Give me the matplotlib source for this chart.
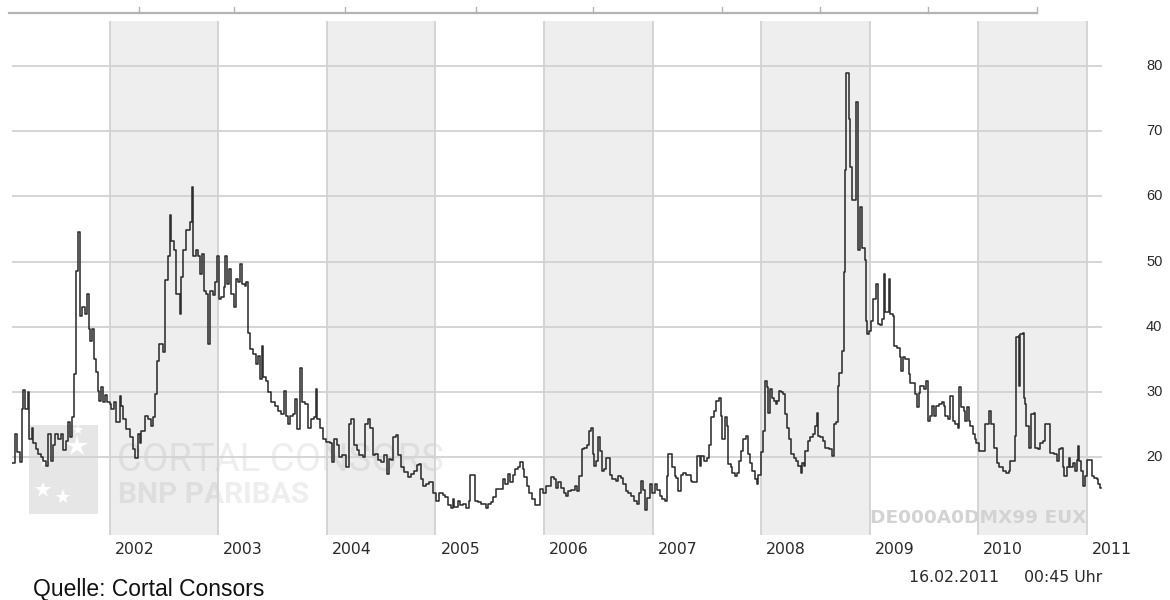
import matplotlib
matplotlib.use("Agg")
import matplotlib.pyplot as plt
from matplotlib.transforms import blended_transform_factory
from matplotlib.patches import Rectangle
from matplotlib.lines import Line2D

# ---------------- data (decimal year, VDAX value; step chart) ----------------
t_year = [
    2001.100, 2001.126, 2001.144, 2001.169, 2001.187, 2001.200, 2001.218, 2001.243, 2001.258, 2001.279,
    2001.295, 2001.316, 2001.341, 2001.365, 2001.387, 2001.408, 2001.433, 2001.454, 2001.479, 2001.494,
    2001.519, 2001.546, 2001.571, 2001.595, 2001.611, 2001.635, 2001.653, 2001.669, 2001.687, 2001.709,
    2001.721, 2001.745, 2001.770, 2001.788, 2001.804, 2001.819, 2001.837, 2001.856, 2001.877, 2001.893,
    2001.905, 2001.923, 2001.939, 2001.957, 2001.972, 2002.000, 2002.015, 2002.040, 2002.061, 2002.092,
    2002.107, 2002.126, 2002.153, 2002.184, 2002.215, 2002.236, 2002.261, 2002.276, 2002.291, 2002.322,
    2002.353, 2002.383, 2002.399, 2002.414, 2002.435, 2002.454, 2002.491, 2002.506, 2002.537, 2002.558,
    2002.567, 2002.589, 2002.613, 2002.644, 2002.659, 2002.675, 2002.705, 2002.736, 2002.754, 2002.767,
    2002.791, 2002.813, 2002.828, 2002.853, 2002.865, 2002.889, 2002.908, 2002.920, 2002.951, 2002.966,
    2002.987, 2003.003, 2003.027, 2003.049, 2003.064, 2003.079, 2003.098, 2003.119, 2003.144, 2003.159,
    2003.181, 2003.202, 2003.220, 2003.242, 2003.257, 2003.273, 2003.294, 2003.319, 2003.343, 2003.365,
    2003.380, 2003.398, 2003.411, 2003.441, 2003.457, 2003.487, 2003.518, 2003.549, 2003.579, 2003.604,
    2003.619, 2003.641, 2003.662, 2003.687, 2003.708, 2003.723, 2003.748, 2003.769, 2003.794, 2003.825,
    2003.849, 2003.877, 2003.895, 2003.910, 2003.932, 2003.963, 2003.993, 2004.024, 2004.049, 2004.070,
    2004.091, 2004.116, 2004.140, 2004.177, 2004.202, 2004.223, 2004.248, 2004.275, 2004.300, 2004.331,
    2004.352, 2004.377, 2004.401, 2004.423, 2004.447, 2004.469, 2004.499, 2004.530, 2004.555, 2004.570,
    2004.591, 2004.613, 2004.637, 2004.659, 2004.683, 2004.714, 2004.745, 2004.775, 2004.806, 2004.827,
    2004.846, 2004.867, 2004.883, 2004.913, 2004.944, 2004.975, 2005.005, 2005.030, 2005.067, 2005.091,
    2005.113, 2005.143, 2005.159, 2005.174, 2005.205, 2005.226, 2005.251, 2005.281, 2005.306, 2005.321,
    2005.361, 2005.389, 2005.419, 2005.465, 2005.481, 2005.511, 2005.527, 2005.557, 2005.619, 2005.643,
    2005.665, 2005.689, 2005.711, 2005.732, 2005.757, 2005.781, 2005.803, 2005.818, 2005.839, 2005.864,
    2005.894, 2005.919, 2005.962, 2005.987, 2006.017, 2006.063, 2006.094, 2006.109, 2006.131, 2006.155,
    2006.180, 2006.201, 2006.223, 2006.253, 2006.284, 2006.303, 2006.324, 2006.349, 2006.370, 2006.395,
    2006.416, 2006.431, 2006.450, 2006.462, 2006.477, 2006.499, 2006.517, 2006.532, 2006.554, 2006.569,
    2006.609, 2006.631, 2006.661, 2006.683, 2006.707, 2006.729, 2006.753, 2006.778, 2006.805, 2006.830,
    2006.855, 2006.876, 2006.891, 2006.913, 2006.928, 2006.953, 2006.977, 2006.999, 2007.020, 2007.045,
    2007.066, 2007.091, 2007.112, 2007.131, 2007.143, 2007.183, 2007.204, 2007.219, 2007.238, 2007.259,
    2007.284, 2007.305, 2007.351, 2007.367, 2007.413, 2007.437, 2007.449, 2007.474, 2007.498, 2007.520,
    2007.535, 2007.566, 2007.581, 2007.612, 2007.627, 2007.643, 2007.664, 2007.683, 2007.698, 2007.719,
    2007.735, 2007.756, 2007.774, 2007.796, 2007.817, 2007.836, 2007.857, 2007.879, 2007.897, 2007.919,
    2007.940, 2007.958, 2007.974, 2007.995, 2008.017, 2008.035, 2008.057, 2008.066, 2008.078, 2008.097,
    2008.118, 2008.133, 2008.149, 2008.164, 2008.179, 2008.201, 2008.219, 2008.241, 2008.256, 2008.280,
    2008.302, 2008.323, 2008.342, 2008.363, 2008.379, 2008.394, 2008.409, 2008.431, 2008.455, 2008.477,
    2008.495, 2008.517, 2008.526, 2008.547, 2008.569, 2008.587, 2008.630, 2008.649, 2008.670, 2008.691,
    2008.710, 2008.722, 2008.741, 2008.762, 2008.771, 2008.783, 2008.808, 2008.823, 2008.839, 2008.875,
    2008.891, 2008.894, 2008.915, 2008.931, 2008.955, 2008.964, 2008.980, 2008.998, 2009.016, 2009.032,
    2009.062, 2009.078, 2009.099, 2009.115, 2009.130, 2009.145, 2009.176, 2009.191, 2009.213, 2009.222,
    2009.253, 2009.277, 2009.293, 2009.305, 2009.329, 2009.360, 2009.375, 2009.421, 2009.437, 2009.452,
    2009.467, 2009.504, 2009.523, 2009.538, 2009.559, 2009.575, 2009.590, 2009.611, 2009.636, 2009.667,
    2009.682, 2009.697, 2009.722, 2009.743, 2009.768, 2009.789, 2009.814, 2009.826, 2009.844, 2009.866,
    2009.875, 2009.897, 2009.918, 2009.927, 2009.949, 2009.973, 2009.983, 2010.004, 2010.059, 2010.096,
    2010.121, 2010.142, 2010.173, 2010.194, 2010.225, 2010.255, 2010.280, 2010.295, 2010.335, 2010.347,
    2010.372, 2010.378, 2010.387, 2010.412, 2010.421, 2010.433, 2010.442, 2010.464, 2010.488, 2010.510,
    2010.525, 2010.550, 2010.571, 2010.596, 2010.617, 2010.663, 2010.694, 2010.725, 2010.740, 2010.764,
    2010.777, 2010.795, 2010.817, 2010.832, 2010.847, 2010.872, 2010.893, 2010.909, 2010.918, 2010.930,
    2010.945, 2010.961, 2010.985, 2011.000, 2011.047, 2011.071, 2011.093, 2011.108, 2011.123, 2011.127,
]
vdax = [
    19.1, 23.5, 20.8, 19.3, 27.3, 30.3, 27.3, 30.0, 22.7, 24.5,
    22.2, 21.2, 20.5, 20.0, 19.4, 18.6, 23.5, 19.4, 21.8, 23.5,
    22.7, 23.5, 21.0, 22.5, 25.3, 23.0, 26.1, 32.7, 48.6, 54.5,
    41.7, 43.0, 42.0, 45.0, 39.6, 37.8, 39.6, 35.0, 33.0, 30.2,
    28.6, 30.7, 28.4, 29.5, 28.5, 28.1, 27.3, 28.5, 25.3, 29.4,
    27.8, 25.8, 24.3, 23.0, 21.2, 19.9, 23.5, 22.2, 24.0, 26.3,
    25.8, 24.8, 26.1, 29.6, 34.8, 37.3, 36.1, 47.1, 50.9, 57.1,
    53.2, 51.7, 45.0, 42.0, 47.6, 51.7, 54.8, 56.1, 61.4, 50.9,
    51.7, 50.9, 48.1, 51.2, 45.5, 45.0, 37.3, 45.5, 44.8, 46.8,
    50.9, 44.3, 44.5, 46.1, 50.9, 46.6, 48.9, 45.0, 43.0, 47.3,
    46.8, 49.6, 46.6, 46.3, 46.8, 39.1, 36.6, 35.8, 34.3, 35.5,
    31.9, 37.1, 32.2, 31.7, 29.9, 28.4, 27.8, 27.1, 26.6, 30.2,
    26.3, 25.0, 26.3, 26.6, 28.9, 24.3, 33.7, 28.4, 28.1, 24.5,
    25.8, 26.1, 30.4, 25.8, 24.5, 22.7, 22.3, 22.1, 19.2, 22.8,
    21.8, 20.0, 20.3, 18.5, 25.1, 25.9, 21.8, 21.0, 20.3, 20.0,
    25.1, 25.9, 24.4, 20.3, 20.5, 19.5, 19.2, 20.3, 17.4, 19.7,
    19.5, 23.1, 23.3, 20.3, 18.5, 17.7, 16.9, 17.4, 17.9, 18.7,
    19.0, 16.7, 15.6, 15.9, 16.2, 14.4, 13.3, 14.4, 14.1, 13.8,
    12.6, 12.1, 13.6, 12.3, 13.3, 12.6, 12.8, 12.1, 13.3, 17.2,
    13.3, 13.1, 12.8, 12.1, 12.8, 13.1, 13.8, 15.1, 16.7, 15.9,
    17.4, 16.2, 17.2, 18.2, 18.5, 19.2, 18.2, 16.9, 15.6, 14.4,
    13.6, 12.6, 15.1, 14.4, 15.5, 16.9, 16.6, 15.3, 16.1, 15.3,
    14.5, 14.0, 14.8, 15.0, 15.5, 14.8, 17.1, 21.2, 21.4, 21.9,
    24.0, 24.4, 20.4, 18.6, 19.4, 23.0, 20.9, 17.9, 18.1, 19.9,
    17.3, 16.6, 16.3, 17.1, 16.8, 15.8, 14.8, 14.5, 14.0, 13.2,
    12.8, 14.5, 16.3, 15.0, 11.9, 13.7, 15.8, 14.5, 15.8, 15.0,
    14.0, 13.5, 13.2, 17.1, 20.4, 18.4, 17.1, 16.8, 14.8, 17.3,
    17.6, 17.3, 16.3, 16.1, 20.2, 18.6, 20.2, 19.4, 19.9, 21.9,
    26.1, 27.1, 28.6, 29.1, 26.3, 22.7, 26.1, 24.8, 18.9, 18.4,
    17.6, 17.1, 17.6, 19.4, 20.9, 22.7, 23.2, 20.4, 19.1, 17.8,
    16.6, 15.8, 17.3, 20.7, 24.0, 31.7, 30.7, 26.8, 30.4, 29.1,
    28.6, 28.1, 28.6, 30.2, 29.9, 29.6, 26.6, 24.5, 22.7, 20.4,
    19.9, 19.4, 18.6, 17.6, 19.1, 18.6, 20.9, 22.5, 23.0, 23.5,
    24.8, 26.8, 23.2, 23.0, 22.5, 21.4, 21.2, 20.1, 25.0, 25.3,
    30.9, 32.9, 36.3, 48.4, 64.0, 78.9, 71.9, 64.5, 59.4, 74.5,
    64.5, 51.7, 58.4, 52.0, 50.2, 40.9, 38.9, 39.4, 40.9, 44.3,
    46.6, 40.4, 40.2, 41.2, 48.1, 42.2, 47.3, 41.9, 41.7, 37.1,
    36.8, 35.3, 33.2, 35.3, 35.0, 32.7, 31.4, 29.6, 27.6, 29.8,
    30.9, 30.4, 31.7, 25.5, 26.3, 27.8, 26.3, 27.8, 28.1, 28.4,
    27.8, 26.3, 25.8, 29.4, 25.5, 25.0, 24.5, 30.7, 27.6, 27.1,
    25.5, 27.6, 25.5, 24.8, 23.5, 22.7, 22.2, 20.9, 25.0, 27.1,
    25.0, 21.4, 19.1, 18.4, 17.8, 17.6, 17.8, 19.4, 23.2, 38.4,
    38.6, 30.9, 38.9, 39.1, 29.1, 28.1, 24.8, 21.4, 26.6, 26.8,
    21.4, 21.2, 22.2, 22.5, 25.0, 20.6, 20.4, 19.4, 21.2, 21.4,
    18.4, 17.1, 18.4, 19.9, 18.4, 19.1, 17.8, 19.6, 21.7, 19.4,
    17.8, 15.5, 17.1, 19.6, 17.1, 16.8, 16.6, 15.8, 15.3, 15.3,
]
years = [2002, 2003, 2004, 2005, 2006, 2007, 2008, 2009, 2010, 2011]
shaded_years = [2002, 2004, 2006, 2008, 2010]
y_ticks = [20, 30, 40, 50, 60, 70, 80]

# ---------------- figure ----------------
W, H = 1170, 600
fig = plt.figure(figsize=(W / 100, H / 100), dpi=100)
fig.patch.set_facecolor("white")

PX_PER_YEAR = 108.55
X_2002 = 109.8
L, R, T, B = 12, 1102, 21, 535
ax = fig.add_axes([L / W, 1 - B / H, (R - L) / W, (B - T) / H])
ax.set_xlim(2002 + (L - X_2002) / PX_PER_YEAR, 2002 + (R - X_2002) / PX_PER_YEAR)
PX_PER_UNIT = (457 - 66) / 60.0
ax.set_ylim(20 - (B - 457) / PX_PER_UNIT, 20 + (457 - T) / PX_PER_UNIT)
for s in ax.spines.values():
    s.set_visible(False)
ax.set_xticks([])
ax.set_yticks([])

grid_c = "#d2d2d2"
for y in shaded_years:
    ax.axvspan(y, y + 1, color="#eeeeee", lw=0, zorder=0)
for v in y_ticks:
    ax.axhline(v, color=grid_c, lw=1.3, zorder=1)
for y in years:
    ax.axvline(y, color=grid_c, lw=1.3, zorder=1)

# watermark (logo + texts)
ax.add_patch(Rectangle((29 / W, 1 - 514 / H), 69 / W, 89 / H, transform=fig.transFigure,
                       facecolor="#e6e6e6", edgecolor="none", zorder=0.6, clip_on=False))
for (sx, sy, ss) in [(77, 446, 16), (45, 462, 9), (43, 490, 12), (63, 497, 11), (78, 430, 8)]:
    ax.add_line(Line2D([sx / W], [1 - sy / H], transform=fig.transFigure, marker="*",
                       markersize=ss, color="white", markeredgewidth=0, zorder=0.7, clip_on=False))
ax.text(117 / W, 1 - 471 / H, "CORTAL CONSORS", transform=fig.transFigure, family="Roboto",
        fontsize=27.5, color="black", alpha=0.065, ha="left", va="baseline", zorder=0.7)
ax.text(118 / W, 1 - 503 / H, "BNP PARIBAS", transform=fig.transFigure, family="Roboto",
        fontsize=21.5, weight="bold", color="black", alpha=0.065, ha="left", va="baseline", zorder=0.7)
ax.text(870 / W, 1 - 518 / H, "DE000A0DMX99 EUX", transform=fig.transFigure, family="DejaVu Sans",
        fontsize=13.3, weight="bold", color="#d3d3d3", ha="left", va="center", zorder=0.7)

# data
ax.step(t_year, vdax, where="post", color="#2e2e2e", lw=1.15, zorder=3)

# x labels (years)
tb = blended_transform_factory(ax.transData, ax.transAxes)
for y in years:
    ax.text(y + 5 / PX_PER_YEAR, -(549 - B) / (B - T), str(y), transform=tb, ha="left",
            va="center", fontsize=11.3, family="DejaVu Sans", color="#2a2a2a")

# y labels (right side)
tr = blended_transform_factory(ax.transAxes, ax.transData)
for v in y_ticks:
    ax.text(1 + 44 / (R - L), v, str(v), transform=tr, ha="left", va="center",
            fontsize=10.5, family="Liberation Sans", color="#2a2a2a")

# date stamp and source
fig.text(1102 / W, 1 - 578 / H, "16.02.2011     00:45 Uhr", ha="right", va="center",
         fontsize=11.3, family="DejaVu Sans", color="#2a2a2a")
fig.text(33 / W, 1 - 596 / H, "Quelle: Cortal Consors", ha="left", va="baseline",
         fontsize=16.5, family="Liberation Sans", color="#111111")

# navigator strip at the top
nav_c = "#b4b4b4"
fig.add_artist(Line2D([9 / W, 1037 / W], [1 - 12.5 / H, 1 - 12.5 / H], color=nav_c, lw=1.6))
for tx in [139, 234, 345, 476, 593, 722, 820, 928, 1037]:
    fig.add_artist(Line2D([tx / W, tx / W], [1 - 12.5 / H, 1 - 7 / H], color=nav_c, lw=1.0))

fig.savefig("out.png", dpi=100, facecolor="white")
